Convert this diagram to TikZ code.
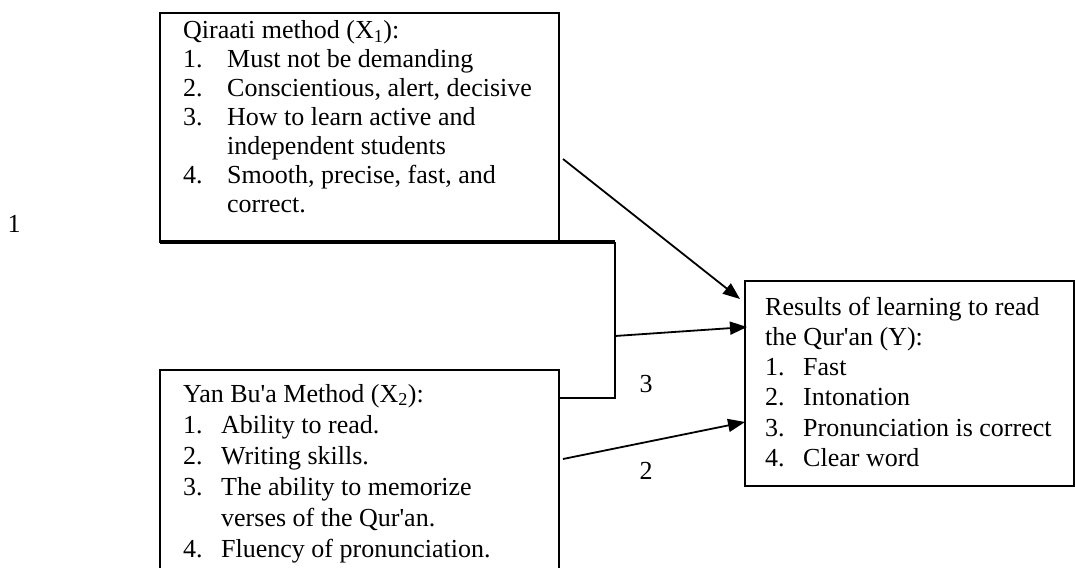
\documentclass[tikz,border=0pt]{standalone}
\usepackage{fontspec}
\setmainfont{Liberation Serif}[Ligatures=TeXOff]
\usetikzlibrary{arrows.meta,calc}

\begin{document}
\begin{tikzpicture}[x=1pt, y=-1pt,
  box/.style={draw, line width=2.2pt, inner sep=0pt, outer sep=0pt, anchor=north west},
  listtext/.style={inner sep=0pt, anchor=base west},
  num/.style={inner sep=0pt, anchor=base, font=\fontsize{26pt}{29pt}\selectfont},
  link/.style={line width=1.8pt, -{Triangle[length=17pt,width=13pt]}}]
  \path[use as bounding box, clip] (0,0) rectangle (1075,567);

  % the three boxes
  \node[box, minimum width=399pt, minimum height=229pt] (x1) at (160,13) {};
  \node[box, minimum width=399pt, minimum height=230pt] (x2) at (160,370) {};
  \node[box, line width=1.6pt, minimum width=329pt, minimum height=205pt] (y) at (745,281) {};

  \node[listtext, font=\fontsize{26pt}{29pt}\selectfont] (x1list) at ([shift={(23,26)}]x1.north west) {%
    \begin{tabular}[t]{@{}p{44pt}@{}l@{}}
      \multicolumn{2}{@{}l@{}}{Qiraati method (X\textsubscript{1}):}\\
      1. & Must not be demanding\\
      2. & Conscientious, alert, decisive\\
      3. & How to learn active and\\
         & independent students\\
      4. & Smooth, precise, fast, and\\
         & correct.
    \end{tabular}};
  \node[listtext, font=\fontsize{26pt}{31pt}\selectfont] (x2list) at ([shift={(23,32)}]x2.north west) {%
    \begin{tabular}[t]{@{}p{38pt}@{}l@{}}
      \multicolumn{2}{@{}l@{}}{Yan Bu'a Method (X\textsubscript{2}):}\\
      1. & Ability to read.\\
      2. & Writing skills.\\
      3. & The ability to memorize\\
         & verses of the Qur'an.\\
      4. & Fluency of pronunciation.
    \end{tabular}};
  \node[listtext, font=\fontsize{26pt}{30.3pt}\selectfont] (ylist) at ([shift={(20,34)}]y.north west) {%
    \begin{tabular}[t]{@{}p{38pt}@{}l@{}}
      \multicolumn{2}{@{}l@{}}{Results of learning to read}\\
      \multicolumn{2}{@{}l@{}}{the Qur'an (Y):}\\
      1. & Fast\\
      2. & Intonation\\
      3. & Pronunciation is correct\\
      4. & Clear word
    \end{tabular}};

  % thick base of the first box, carried on into the bracket
  \draw[line width=4pt] (x1.south west) -- (x1.south east) -- ++(56,0) coordinate (bk);
  \draw[line width=2.6pt] (bk) |- ([yshift=-28pt]x2.north east);

  % arrows into Y
  \draw[link] ([shift={(4,146)}]x1.north east) -- ([shift={(-5,18)}]y.north west);
  \draw[link] ($(bk)+(0,94)$) -- ([shift={(2,46)}]y.north west);
  \draw[link] ([shift={(4,89)}]x2.north east) -- ([shift={(0,141)}]y.north west);

  % numbers
  \node[num] (n1) at (14,232) {1};
  \node[num] (n3) at (646,392) {3};
  \node[num] (n2) at (646,479) {2};
\end{tikzpicture}
\end{document}
